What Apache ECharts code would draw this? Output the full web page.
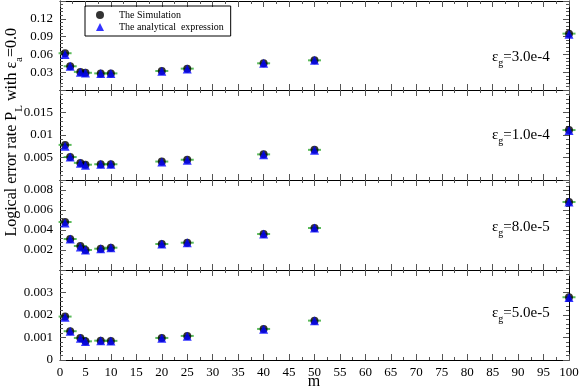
<!DOCTYPE html>
<html>
<head>
<meta charset="utf-8">
<script src="https://cdn.jsdelivr.net/npm/echarts@6/dist/echarts.min.js"></script>
<style>
  html, body { margin: 0; padding: 0; background: #fff; }
  #chart { width: 581px; height: 390px; }
</style>
</head>
<body>
<div id="chart"></div>
<script>
// m values (x) shared by all four panels
var mVals = [1, 2, 4, 5, 8, 10, 20, 25, 40, 50, 100]

// eps_g = 3.0e-4
var sim1 = [0.062, 0.040, 0.0305, 0.029, 0.028, 0.028, 0.032, 0.036, 0.045, 0.050, 0.095]
var ana1 = [0.060, 0.040, 0.030, 0.0285, 0.028, 0.028, 0.0315, 0.0355, 0.045, 0.050, 0.094]
// eps_g = 1.0e-4
var sim2 = [0.0078, 0.0051, 0.0038, 0.0034, 0.0035, 0.0035, 0.0041, 0.0045, 0.0057, 0.0067, 0.0111]
var ana2 = [0.0075, 0.0051, 0.0037, 0.0033, 0.0035, 0.0035, 0.0040, 0.0044, 0.0056, 0.0066, 0.0110]
// eps_g = 8.0e-5
var sim3 = [0.0048, 0.0031, 0.0024, 0.0020, 0.00213, 0.00223, 0.0026, 0.00273, 0.0036, 0.0042, 0.0068]
var ana3 = [0.0047, 0.0031, 0.0023, 0.0020, 0.00212, 0.00222, 0.0026, 0.00272, 0.0036, 0.0042, 0.0068]
// eps_g = 5.0e-5
var sim4 = [0.00193, 0.00128, 0.00098, 0.00083, 0.00086, 0.00085, 0.00098, 0.00107, 0.00138, 0.00175, 0.00279]
var ana4 = [0.00190, 0.00128, 0.00097, 0.00082, 0.00086, 0.00085, 0.00097, 0.00106, 0.00137, 0.00174, 0.00278]

// tick labels
var xLabels = ['0', '5', '10', '15', '20', '25', '30', '35', '40', '45', '50', '55', '60', '65', '70', '75', '80', '85', '90', '95', '100']
var yLabels1 = ['0.03', '0.06', '0.09', '0.12']
var yLabels2 = ['0.005', '0.01', '0.015']
var yLabels3 = ['0.002', '0.004', '0.006', '0.008']
var yLabels4 = ['0', '0.001', '0.002', '0.003']
var panelNames = ['3.0e-4', '1.0e-4', '8.0e-5', '5.0e-5']

var sims = [sim1, sim2, sim3, sim4]
var anas = [ana1, ana2, ana3, ana4]
var yLabelSets = [yLabels1, yLabels2, yLabels3, yLabels4]
var yMax = [0.15, 0.02, 0.009, 0.004]
var yStep = [0.03, 0.005, 0.002, 0.001]

var FONT = 'Liberation Serif'
var gridTops = [1, 90, 180, 270]
var gridHeights = [89, 90, 90, 90]
var labelY = [57, 135, 227, 313]

var measureCtx = document.createElement('canvas').getContext('2d')
function textWidth (str, size) {
  measureCtx.font = size + 'px "' + FONT + '"'
  return measureCtx.measureText(str).width
}

// text pieces laid out left to right, subscripts dropped a bit
function subTextChildren (parts, mainSize, subSize, drop) {
  var out = []
  var x = 0
  parts.forEach(function (pt) {
    var size = pt.sub ? subSize : mainSize
    out.push({
      type: 'text', x: x, y: pt.sub ? drop : 0,
      style: { text: pt.t, fontFamily: FONT, fontSize: size, fill: '#000', align: 'left', verticalAlign: 'middle' }
    })
    x += textWidth(pt.t, size)
  })
  return { children: out, width: x }
}

function pickLabel (list) {
  return function (v) {
    for (var i = 0; i < list.length; i++) {
      if (Math.abs(parseFloat(list[i]) - v) < 1e-9) return list[i]
    }
    return ''
  }
}

function xAxisFor (idx, pos) {
  return {
    type: 'value', gridIndex: idx, position: pos,
    min: 0, max: 100, interval: 5,
    axisLine: { show: true, onZero: false, lineStyle: { color: '#000', width: 1 } },
    axisTick: { show: true, inside: true, length: 6, lineStyle: { color: '#555' } },
    minorTick: { show: true, splitNumber: 2, length: 3, lineStyle: { color: '#555' } },
    splitLine: { show: false },
    axisLabel: {
      show: idx === 3 && pos === 'bottom', interval: 0, margin: 6,
      fontFamily: FONT, fontSize: 13, color: '#000',
      formatter: pickLabel(xLabels)
    }
  }
}

function yAxisFor (idx, pos) {
  return {
    type: 'value', gridIndex: idx, position: pos,
    min: 0, max: yMax[idx], interval: yStep[idx],
    axisLine: { show: true, onZero: false, lineStyle: { color: '#000', width: 1 } },
    axisTick: { show: true, inside: true, length: 6, lineStyle: { color: '#555' } },
    minorTick: { show: true, splitNumber: 5, length: 3, lineStyle: { color: '#555' } },
    splitLine: { show: false },
    axisLabel: {
      show: pos === 'left', margin: 7,
      fontFamily: FONT, fontSize: 13, color: '#000',
      showMinLabel: true, showMaxLabel: true, hideOverlap: false,
      formatter: pickLabel(yLabelSets[idx])
    }
  }
}

var grids = []
var xAxes = []
var yAxes = []
var series = []
var graphics = []
for (var p = 0; p < 4; p++) {
  grids.push({ left: 60, right: 12, top: gridTops[p], height: gridHeights[p], outerBoundsMode: 'none' })
  xAxes.push(xAxisFor(p, 'bottom'))
  yAxes.push(yAxisFor(p, 'left'))
}
for (var q = 0; q < 4; q++) {
  xAxes.push(xAxisFor(q, 'top'))
  yAxes.push(yAxisFor(q, 'right'))
}
for (var k = 0; k < 4; k++) {
  var simPts = mVals.map(function (m, i) { return [m, sims[k][i]] })
  var anaPts = mVals.map(function (m, i) { return [m, anas[k][i]] })
  series.push({
    name: 'bar', type: 'scatter', xAxisIndex: k, yAxisIndex: k,
    symbol: 'rect', symbolSize: [13, 2], z: 1, silent: true,
    itemStyle: { color: '#33aa33' }, data: simPts
  })
  series.push({
    name: 'The Simulation', type: 'scatter', xAxisIndex: k, yAxisIndex: k,
    symbol: 'circle', symbolSize: 8, z: 2,
    itemStyle: { color: '#000' }, data: simPts
  })
  series.push({
    name: 'The analytical  expression', type: 'scatter', xAxisIndex: k, yAxisIndex: k,
    symbol: 'triangle', symbolSize: 9, z: 3,
    itemStyle: { color: '#0000ff' }, data: anaPts
  })
  var lab = subTextChildren([{ t: 'ε' }, { t: 'g', sub: true }, { t: '=' + panelNames[k] }], 15, 10, 6)
  graphics.push({ type: 'group', x: 492, y: labelY[k], children: lab.children })
}

// y axis title, reads bottom to top
var yTitle = subTextChildren([
  { t: 'Logical error rate P' }, { t: 'L', sub: true },
  { t: ' with ε' }, { t: 'a', sub: true }, { t: '=0.0' }
], 16, 11, 7)
graphics.push({
  type: 'group', x: 12, y: 28 + yTitle.width, rotation: Math.PI / 2,
  children: yTitle.children
})
graphics.push({
  type: 'text', x: 314, y: 382,
  style: { text: 'm', fontFamily: FONT, fontSize: 16, fill: '#000', align: 'center', verticalAlign: 'middle' }
})

var chart = echarts.init(document.getElementById('chart'), null, { renderer: 'canvas' })
chart.setOption({
  animation: false,
  backgroundColor: '#fff',
  grid: grids,
  xAxis: xAxes,
  yAxis: yAxes,
  legend: {
    data: ['The Simulation', 'The analytical  expression'],
    orient: 'vertical', left: 85, top: 6,
    borderColor: '#000', borderWidth: 1, borderRadius: 0,
    padding: [4, 7, 4, 11], itemGap: 2, itemWidth: 8, itemHeight: 8,
    selectedMode: false,
    textStyle: { fontFamily: FONT, fontSize: 10, color: '#000', padding: [0, 0, 0, 10] }
  },
  series: series,
  graphic: graphics
})
</script>
</body>
</html>
